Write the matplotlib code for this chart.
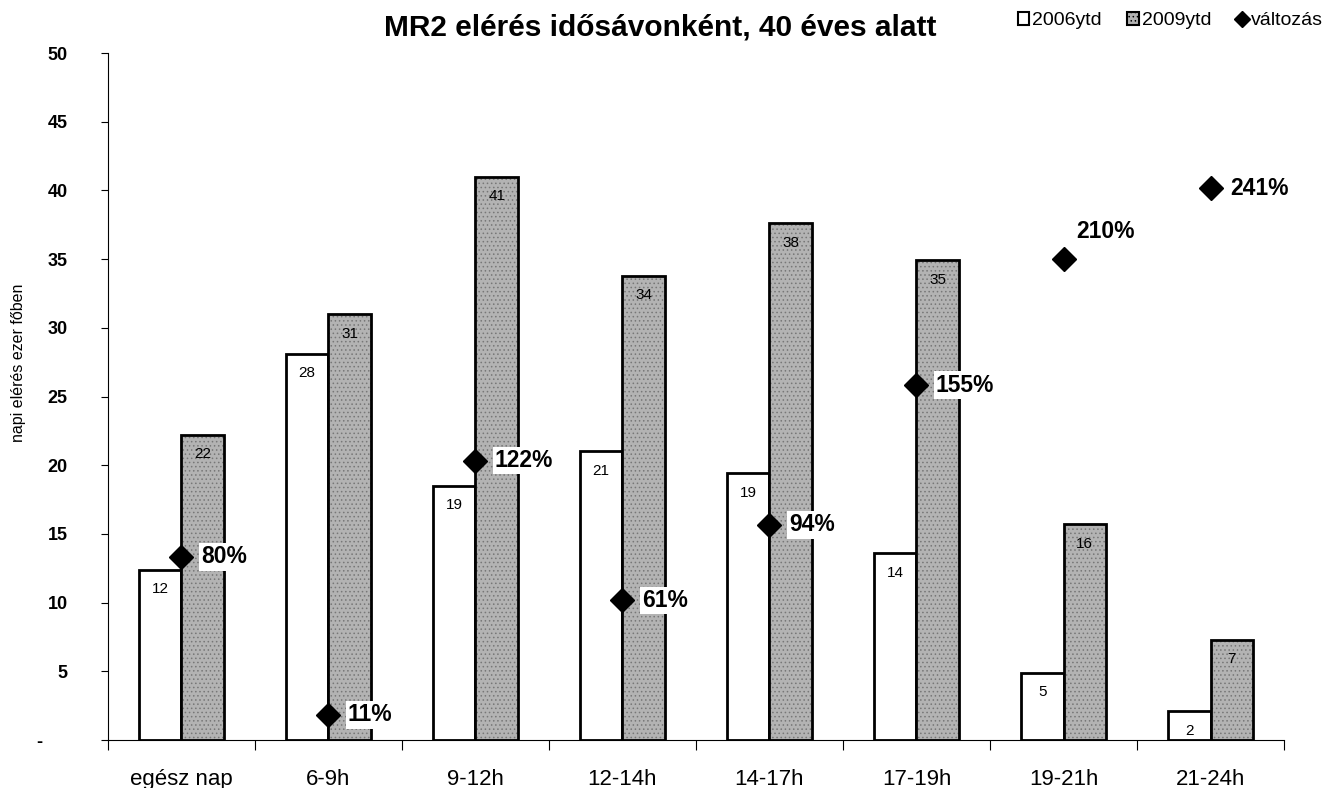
import numpy as np
import matplotlib.pyplot as plt
from matplotlib.patches import Patch
from matplotlib.lines import Line2D

plt.rcParams['font.family'] = ['Liberation Sans', 'DejaVu Sans']
plt.rcParams['hatch.linewidth'] = 0.6

categories = ["egész nap", "6-9h", "9-12h", "12-14h", "14-17h", "17-19h", "19-21h", "21-24h"]
reach_2006 = [12.4, 28.1, 18.5, 21.0, 19.4, 13.6, 4.9, 2.1]
reach_2009 = [22.2, 31.0, 41.0, 33.8, 37.6, 34.9, 15.7, 7.3]
change_pct = [80, 11, 122, 61, 94, 155, 210, 241]
yticks = [0, 5, 10, 15, 20, 25, 30, 35, 40, 45, 50]
ytick_labels = ["-     ", "5", "10", "15", "20", "25", "30", "35", "40", "45", "50"]

fig = plt.figure(figsize=(13.31, 7.88), dpi=100)
ax = fig.add_axes([0.0811, 0.0609, 0.8836, 0.8718])

x = np.arange(len(categories))
w = 0.29


def half_up(v):
    # excel-style rounding for the bar labels
    return str(int(np.floor(v + 0.5)))


# 2006 bars: white with black outline
b1 = ax.bar(x - w / 2, reach_2006, w, color="white", edgecolor="black", linewidth=2.0, zorder=2)
# 2009 bars: gray dotted fill, then outline on top
ax.bar(x + w / 2, reach_2009, w, color="#b3b3b3", edgecolor="#777777", linewidth=0, hatch="....", zorder=2)
b2 = ax.bar(x + w / 2, reach_2009, w, fill=False, edgecolor="black", linewidth=2.0, zorder=3)

for rect, v in zip(b1, reach_2006):
    ax.annotate(half_up(v), (rect.get_x() + rect.get_width() / 2, v), xytext=(0, -14),
                textcoords="offset points", ha="center", va="center", fontsize=11, zorder=5)
for rect, v in zip(b2, reach_2009):
    ax.annotate(half_up(v), (rect.get_x() + rect.get_width() / 2, v), xytext=(0, -14),
                textcoords="offset points", ha="center", va="center", fontsize=11, zorder=5)

ax.set_xlim(-0.5, len(categories) - 0.5)
ax.set_ylim(0, 50)
ax.set_yticks(yticks)
ax.set_yticklabels(ytick_labels, fontsize=13, fontweight="bold")
ax.tick_params(axis="y", length=5, width=0.8, pad=24)

ax.set_xticks(np.arange(len(categories) + 1) - 0.5)
ax.set_xticklabels([])
ax.tick_params(axis="x", which="major", length=7, width=0.8)
ax.set_xticks(x, minor=True)
ax.set_xticklabels(categories, minor=True, fontsize=16)
ax.tick_params(axis="x", which="minor", length=0, pad=21)

for side in ["top", "right"]:
    ax.spines[side].set_visible(False)
ax.spines["left"].set_linewidth(0.8)
ax.spines["bottom"].set_linewidth(0.8)

# change on a hidden secondary axis (0-300%)
ax2 = ax.twinx()
ax2.set_ylim(0, 300)
ax2.set_axis_off()
ax2.plot(x, change_pct, linestyle="none", marker="D", markersize=12, color="black", zorder=6)
for i, p in enumerate(change_pct):
    if categories[i] == "19-21h":
        off = (9, 20)
    else:
        off = (14, 0)
    ax2.annotate(f"{p}%", (x[i], p), xytext=off, textcoords="offset points", ha="left", va="center",
                 fontsize=16.5, fontweight="bold", zorder=7,
                 bbox=dict(boxstyle="square,pad=0.1", fc="white", ec="none"))

fig.text(0.496, 0.965, "MR2 elérés idősávonként, 40 éves alatt", ha="center", va="center",
         fontsize=21.5, fontweight="bold")
fig.text(0.014, 0.54, "napi elérés ezer főben", rotation=90, ha="center", va="center", fontsize=11.5)

handles = [Patch(facecolor="white", edgecolor="black", linewidth=1.5),
           Patch(facecolor="#b3b3b3", edgecolor="black", linewidth=1.5, hatch="...."),
           Line2D([], [], linestyle="none", marker="D", markersize=8, color="black")]
fig.legend(handles, ["2006ytd", "2009ytd", "változás"], loc="upper right", bbox_to_anchor=(1.0, 0.995),
           ncol=3, frameon=False, fontsize=14, handlelength=0.6, handleheight=0.7,
           handletextpad=0.15, columnspacing=1.3, borderaxespad=0.0)

fig.savefig("out.png", dpi=100)
